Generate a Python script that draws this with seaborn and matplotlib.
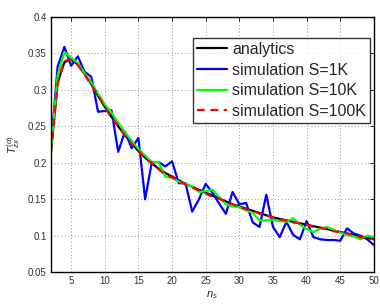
import numpy as np
import pandas as pd
import matplotlib
matplotlib.use("Agg")
import matplotlib.pyplot as plt
import seaborn as sns

# values
n_s = list(range(2, 51))

analytics = [0.215, 0.310, 0.338, 0.342, 0.335, 0.322, 0.308, 0.292, 0.277, 0.263,
             0.250, 0.238, 0.227, 0.216, 0.207, 0.199, 0.192, 0.186, 0.181, 0.176,
             0.171, 0.167, 0.163, 0.159, 0.155, 0.151, 0.147, 0.143, 0.140, 0.137,
             0.134, 0.131, 0.128, 0.125, 0.123, 0.121, 0.119, 0.117, 0.115, 0.113,
             0.111, 0.109, 0.107, 0.105, 0.103, 0.101, 0.099, 0.097, 0.095]

sim_1k = [0.220, 0.332, 0.359, 0.333, 0.346, 0.325, 0.318, 0.270, 0.271, 0.272,
          0.215, 0.243, 0.220, 0.234, 0.150, 0.201, 0.201, 0.195, 0.202, 0.172,
          0.172, 0.133, 0.150, 0.171, 0.159, 0.144, 0.130, 0.160, 0.143, 0.145,
          0.118, 0.112, 0.156, 0.112, 0.098, 0.119, 0.101, 0.095, 0.120, 0.098,
          0.095, 0.094, 0.094, 0.093, 0.110, 0.103, 0.100, 0.095, 0.087]

sim_10k = [0.215, 0.320, 0.352, 0.344, 0.337, 0.323, 0.310, 0.295, 0.280, 0.269,
           0.255, 0.242, 0.230, 0.219, 0.210, 0.201, 0.201, 0.181, 0.179, 0.174,
           0.171, 0.167, 0.160, 0.161, 0.163, 0.153, 0.143, 0.140, 0.139, 0.135,
           0.131, 0.121, 0.121, 0.122, 0.120, 0.119, 0.124, 0.115, 0.109, 0.105,
           0.109, 0.112, 0.108, 0.104, 0.101, 0.099, 0.095, 0.100, 0.098]

sim_100k = [0.214, 0.309, 0.340, 0.341, 0.334, 0.321, 0.307, 0.293, 0.276, 0.262,
            0.251, 0.237, 0.226, 0.217, 0.205, 0.200, 0.191, 0.184, 0.180, 0.175,
            0.170, 0.166, 0.162, 0.158, 0.153, 0.151, 0.146, 0.143, 0.139, 0.136,
            0.134, 0.130, 0.128, 0.125, 0.122, 0.121, 0.118, 0.117, 0.115, 0.112,
            0.111, 0.109, 0.106, 0.105, 0.103, 0.101, 0.098, 0.097, 0.095]

sns.set_theme(style="white")
plt.rcParams["font.family"] = ["Liberation Sans", "DejaVu Sans"]
plt.rcParams["mathtext.fontset"] = "custom"
plt.rcParams["mathtext.rm"] = "Liberation Sans"
plt.rcParams["mathtext.it"] = "Liberation Sans:italic"

fig = plt.figure(figsize=(3.8, 3.04), dpi=100)
ax = fig.add_axes([0.134, 0.105, 0.85, 0.839])

sns.lineplot(x=n_s, y=analytics, color="black", lw=1.6, label="analytics", ax=ax)
sns.lineplot(x=n_s, y=sim_1k, color="#0000ff", lw=1.6, label="simulation S=1K", ax=ax)
sns.lineplot(x=n_s, y=sim_10k, color="#00ff00", lw=1.6, label="simulation S=10K", ax=ax)
sns.lineplot(x=n_s, y=sim_100k, color="#ff0000", lw=1.6, ls=(0, (3.5, 2.5)),
             label="simulation S=100K", ax=ax)

ax.set_xlim(2, 50)
ax.set_ylim(0.05, 0.4)
ax.set_xticks(np.arange(5, 51, 5))
ax.set_yticks(np.arange(0.05, 0.401, 0.05))
ax.set_yticklabels(["0.05", "0.1", "0.15", "0.2", "0.25", "0.3", "0.35", "0.4"])
ax.grid(True, ls=(0, (1, 3)), color="#777777", lw=0.6)
ax.tick_params(axis="both", direction="in", labelsize=7, length=3, width=0.6,
               top=True, right=True, colors="black", pad=3)
for tl in ax.get_xticklabels() + ax.get_yticklabels():
    tl.set_color("#333333")
for sp in ax.spines.values():
    sp.set_color("black")
    sp.set_linewidth(1.0)

ax.set_xlabel("$n_s$", fontsize=8, labelpad=2)
ax.set_ylabel(r"$T_{zx}^{(\alpha)}$", fontsize=8, labelpad=4)

leg = ax.legend(loc="upper right", fontsize=11.5, frameon=True, fancybox=False,
                edgecolor="black", handlelength=1.9, handletextpad=0.3,
                labelspacing=0.35, borderpad=0.25, borderaxespad=0.0,
                bbox_to_anchor=(0.988, 0.918))
leg.get_frame().set_linewidth(1.0)

fig.savefig("out.png", dpi=100)
